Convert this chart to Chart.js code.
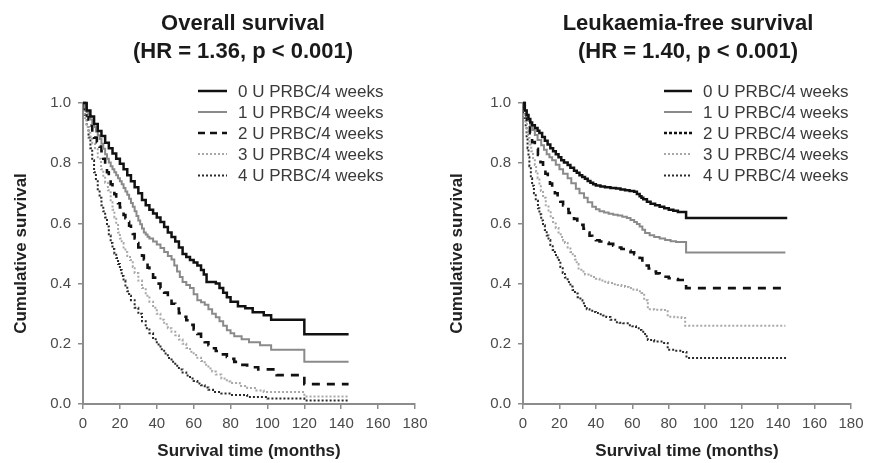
<!DOCTYPE html>
<html>
<head>
<meta charset="utf-8">
<script src="https://cdn.jsdelivr.net/npm/chart.js@4.4.1/dist/chart.umd.min.js"></script>
<style>
  html, body { margin: 0; padding: 0; background: #ffffff; }
  body { width: 871px; height: 463px; position: relative; overflow: hidden; }
  .panel { position: absolute; top: 0; height: 463px; }
</style>
</head>
<body>
<div class="panel" style="left:0;width:435px"><canvas id="os" width="435" height="463"></canvas></div>
<div class="panel" style="left:436px;width:435px"><canvas id="lfs" width="435" height="463"></canvas></div>
<script>
// ---------- data ----------
const groupLabels = ["0 U PRBC/4 weeks", "1 U PRBC/4 weeks", "2 U PRBC/4 weeks", "3 U PRBC/4 weeks", "4 U PRBC/4 weeks"];
const titleOS = ["Overall survival", "(HR = 1.36, p < 0.001)"];
const titleLFS = ["Leukaemia-free survival", "(HR = 1.40, p < 0.001)"];
const xTitle = "Survival time (months)";
const yTitle = "Cumulative survival";

// Overall survival (Kaplan-Meier steps: time in months, cumulative survival)
const os0_t = [0,2,4,6,8,10,12,14,16,18,20,22,24,26,28,30,32,34,36,38,40,42,44,46,48,50,52,54,56,58,60,62,64,65.5,67,72,74,76,78,80,84,88,92,98,102,120,144];
const os0_s = [1,0.975,0.955,0.93,0.907,0.89,0.868,0.85,0.832,0.815,0.798,0.78,0.76,0.74,0.72,0.70,0.678,0.66,0.645,0.633,0.62,0.605,0.588,0.57,0.555,0.54,0.52,0.498,0.488,0.478,0.47,0.46,0.445,0.43,0.405,0.40,0.385,0.37,0.355,0.34,0.325,0.318,0.305,0.295,0.28,0.232,0.232];
const os1_t = [0,1,2,3,4,5,6,7,8,9,10,11,12,13,14,15,16,17,18,19,20,21,22,23,24,25,26,27,28,29,30,31,32,33,34,35,36,38,40,42,44,46,48,49.5,51,52.5,54,56,58,60,62,64,66,68,70,72,74,76,78,80,82,86,90,96,102,120,144];
const os1_s = [1,0.985,0.97,0.96,0.945,0.93,0.92,0.905,0.893,0.88,0.865,0.848,0.83,0.815,0.802,0.79,0.78,0.77,0.76,0.75,0.74,0.73,0.718,0.706,0.695,0.682,0.668,0.655,0.64,0.625,0.61,0.597,0.583,0.57,0.563,0.556,0.55,0.54,0.53,0.518,0.505,0.492,0.48,0.46,0.44,0.422,0.405,0.395,0.385,0.365,0.345,0.338,0.33,0.315,0.30,0.288,0.275,0.26,0.245,0.235,0.225,0.215,0.205,0.195,0.18,0.14,0.14];
const os2_t = [0,1,2,3,4,5,6,7.5,9,10,11,12,13,14,15,16,17,18,19,20,21,22,23,24,25,26,27,28,29,30,31,32,33,34,35,36,38,40,42,44,46,48,50,52,54,56,58,60,62,64,66,68,70,72,75,78,80,82,84,89,95,105,120,144];
const os2_s = [1,0.98,0.96,0.945,0.925,0.9,0.885,0.87,0.855,0.84,0.815,0.795,0.77,0.75,0.73,0.713,0.697,0.68,0.667,0.653,0.64,0.628,0.617,0.605,0.592,0.578,0.565,0.55,0.535,0.52,0.507,0.493,0.48,0.467,0.453,0.44,0.42,0.40,0.385,0.37,0.35,0.333,0.317,0.302,0.29,0.278,0.263,0.248,0.233,0.218,0.205,0.195,0.185,0.176,0.165,0.156,0.15,0.14,0.13,0.122,0.115,0.096,0.066,0.066];
const os3_t = [0,1,2,3,4,5,6.5,8,9.8,11,12,13.5,15,16,17,18,19,20,21,22,23,24,25.5,27,28,30,32,34,36,38,40,42,44,46,48,50,52,54,56,58,60,62,64,66,68,70,72,75,78,80,85,89,94,98,120,144];
const os3_s = [1,0.95,0.92,0.9,0.88,0.865,0.85,0.815,0.78,0.755,0.735,0.71,0.67,0.645,0.62,0.595,0.57,0.55,0.535,0.52,0.505,0.492,0.478,0.455,0.435,0.41,0.385,0.36,0.34,0.32,0.30,0.28,0.265,0.252,0.24,0.228,0.214,0.20,0.186,0.174,0.163,0.154,0.143,0.13,0.118,0.108,0.098,0.085,0.075,0.07,0.06,0.053,0.045,0.04,0.025,0.025];
const os4_t = [0,1,2,3,4,5,6,7,8,9,10,11,12,13,14,15,16,17,18,19,20,21,22,23,24,25,26,28,30,32,34,36,38,40,42,44,46,48,50,52,54,56,58,60,62,64,66,68,70.5,75,80,89,100,120,144];
const os4_s = [1,0.96,0.92,0.885,0.85,0.81,0.77,0.74,0.71,0.685,0.66,0.64,0.62,0.59,0.56,0.535,0.515,0.50,0.485,0.465,0.445,0.425,0.41,0.39,0.375,0.36,0.345,0.32,0.30,0.275,0.252,0.235,0.215,0.198,0.182,0.168,0.153,0.14,0.127,0.115,0.105,0.095,0.085,0.076,0.068,0.062,0.055,0.047,0.04,0.035,0.03,0.023,0.018,0.012,0.012];

// Leukaemia-free survival
const lfs0_t = [0,1,2,3,4,5,6.5,8,9,10.5,12,13.5,15,16.5,18,19.5,21,22.5,24.5,26,28,29.5,31,32.5,34,35.5,37,38.5,40,42.5,45,48,51,53.5,56,58.5,61,62.5,64,65,66,68,70,72.5,75,77.5,80,82.5,85,89.5,145];
const lfs0_s = [1,0.975,0.96,0.947,0.935,0.926,0.917,0.908,0.9,0.887,0.875,0.862,0.85,0.84,0.83,0.82,0.81,0.802,0.794,0.785,0.775,0.768,0.76,0.754,0.748,0.741,0.735,0.73,0.726,0.723,0.72,0.718,0.716,0.713,0.71,0.708,0.705,0.698,0.69,0.685,0.68,0.672,0.665,0.66,0.655,0.65,0.645,0.642,0.638,0.618,0.618];
const lfs1_t = [0,1,2,3,4,5,6.5,8,10,11.5,13,14.5,16,18,20,22,24.5,26.5,29,31,33.5,35.5,38,40,42,44.5,47,49.5,52,54.5,57,59,61,62.5,64,65.5,67,69.5,72,75,78,81,84,89.5,144];
const lfs1_s = [1,0.975,0.955,0.94,0.925,0.91,0.894,0.877,0.86,0.845,0.83,0.82,0.81,0.795,0.78,0.765,0.75,0.733,0.715,0.70,0.685,0.67,0.655,0.647,0.64,0.636,0.632,0.629,0.626,0.622,0.618,0.611,0.605,0.598,0.59,0.579,0.568,0.561,0.555,0.55,0.545,0.541,0.538,0.503,0.503];
const lfs2_t = [0,0.7,1.5,2.1,2.7,3.8,5,6.5,8.2,9.6,11,12.3,13.6,14.8,16,17.5,19,20.5,22,23.5,25,26.5,28,29.8,31.5,33.2,35,36.5,38,40,42,44.5,47,49.5,52,54,56.5,59,61,62.5,64,65.5,67,69,70.7,73,75,77.5,80,82.5,85,89.5,144];
const lfs2_s = [1,0.98,0.96,0.945,0.927,0.9,0.87,0.848,0.827,0.803,0.78,0.765,0.75,0.732,0.715,0.7,0.684,0.672,0.66,0.648,0.635,0.625,0.615,0.605,0.595,0.582,0.57,0.559,0.548,0.544,0.54,0.536,0.532,0.526,0.52,0.515,0.51,0.504,0.498,0.492,0.485,0.472,0.46,0.45,0.44,0.434,0.428,0.423,0.418,0.415,0.412,0.385,0.385];
const lfs3_t = [0,0.7,1.5,2.1,2.7,3.6,4.5,5.5,6.5,7.2,8,9,9.8,11,12.5,14,15.2,16.5,18,19.5,20.7,22,23,24.5,26,27.3,28.5,29.5,30.5,32,34,36,38,40,42,44.5,46.8,49.5,52,54,56,58,60,62.5,65,66.5,68.5,72,76,79.4,83,87,89,144];
const lfs3_s = [1,0.96,0.93,0.905,0.884,0.862,0.84,0.817,0.794,0.772,0.75,0.728,0.708,0.685,0.66,0.637,0.618,0.60,0.585,0.57,0.555,0.543,0.535,0.52,0.505,0.492,0.48,0.465,0.45,0.44,0.43,0.426,0.422,0.416,0.41,0.406,0.402,0.398,0.395,0.392,0.389,0.385,0.38,0.375,0.369,0.345,0.315,0.313,0.312,0.29,0.288,0.286,0.26,0.26];
const lfs4_t = [0,0.5,1,1.5,2,2.5,3,3.5,4.3,5,6,7,8.2,9,10,11,12,13,14,15,16.3,17.5,19,20.5,21.8,23,24.5,26,27.2,28.5,30,31.5,32.6,34,35,36.5,38,40,42,44,45.7,48,50.6,53,55,58,60,62,63.5,65,67,68.5,72,76,79.4,83,87,89.7,145];
const lfs4_s = [1,0.97,0.95,0.92,0.885,0.85,0.82,0.79,0.75,0.725,0.70,0.675,0.65,0.63,0.61,0.594,0.578,0.56,0.545,0.528,0.512,0.495,0.478,0.455,0.435,0.42,0.405,0.39,0.379,0.367,0.355,0.345,0.335,0.322,0.315,0.31,0.306,0.302,0.298,0.294,0.289,0.28,0.272,0.27,0.268,0.262,0.258,0.252,0.246,0.24,0.225,0.213,0.208,0.203,0.18,0.177,0.173,0.153,0.153];

const xTicks = [0,20,40,60,80,100,120,140,160,180];
const yTicks = [0.0,0.2,0.4,0.6,0.8,1.0];

// ---------- styles ----------
const seriesStyle = [
  { color: '#111111', width: 2.5, dash: [] },
  { color: '#8a8a8a', width: 2.0, dash: [] },
  { color: '#111111', width: 2.6, dash: [8, 7] },
  { color: '#a8a8a8', width: 2.0, dash: [2, 2] },
  { color: '#2a2a2a', width: 2.0, dash: [2, 2] }
];

const FONT = "'Liberation Sans', Arial, Helvetica, sans-serif";
Chart.defaults.font.family = FONT;
Chart.defaults.color = '#444444';

function pts(t, s) { return t.map((v, i) => ({ x: v, y: s[i] })); }

const decorPlugin = {
  id: 'decor',
  afterDraw(chart) {
    const o = chart.options.plugins.decor;
    const ctx = chart.ctx;
    ctx.save();
    ctx.fillStyle = '#1a1a1a';
    ctx.font = "bold 22px " + FONT;
    ctx.textAlign = 'center';
    ctx.textBaseline = 'alphabetic';
    o.title.forEach((line, i) => ctx.fillText(line, o.titleX, o.titleY[i]));
    ctx.font = "17px " + FONT;
    ctx.textAlign = 'left';
    chart.data.datasets.forEach((ds, i) => {
      const yb = o.legendY[i];
      const st = seriesStyle[i];
      ctx.strokeStyle = st.color;
      ctx.lineWidth = st.width;
      ctx.setLineDash(i === 2 ? o.legendDash2 : st.dash);
      ctx.beginPath();
      ctx.moveTo(o.legendX1, yb - 5.5);
      ctx.lineTo(o.legendX2, yb - 5.5);
      ctx.stroke();
      ctx.setLineDash([]);
      ctx.fillStyle = '#3a3a3a';
      ctx.fillText(ds.label, o.legendTextX, yb);
    });
    ctx.restore();
  }
};

function makeChart(id, series, title, yAxisWidth, decor) {
  const datasets = series.map((sr, i) => ({
    label: groupLabels[i],
    data: pts(sr[0], sr[1]),
    borderColor: seriesStyle[i].color,
    borderWidth: seriesStyle[i].width,
    borderDash: seriesStyle[i].dash,
    stepped: true,
    pointRadius: 0,
    fill: false,
    clip: 6
  }));
  return new Chart(document.getElementById(id), {
    type: 'line',
    data: { datasets },
    options: {
      responsive: false,
      animation: false,
      devicePixelRatio: 1,
      layout: { padding: { top: 103, right: 20, left: 0, bottom: 0 } },
      plugins: {
        legend: { display: false },
        title: { display: false },
        tooltip: { enabled: false },
        decor: Object.assign({ title }, decor)
      },
      scales: {
        x: {
          type: 'linear', min: 0, max: 180,
          afterBuildTicks(scale) { scale.ticks = xTicks.map(v => ({ value: v })); },
          ticks: { font: { size: 15 }, color: '#4a4a4a', padding: 6, maxRotation: 0,
                   callback: v => String(v) },
          grid: { drawOnChartArea: false, drawTicks: true, tickLength: 5, color: '#8c8c8c', lineWidth: 1.5 },
          border: { display: true, color: '#8c8c8c', width: 2 },
          title: { display: true, text: xTitle, color: '#222222',
                   font: { size: 17, weight: 'bold' }, padding: { top: 0, bottom: 1 } },
          afterFit(scale) { scale.height = 59; }
        },
        y: {
          type: 'linear', min: 0, max: 1,
          afterBuildTicks(scale) { scale.ticks = yTicks.map(v => ({ value: v })); },
          ticks: { font: { size: 15 }, color: '#4a4a4a', padding: 7,
                   callback: v => Number(v).toFixed(1) },
          grid: { drawOnChartArea: false, drawTicks: true, tickLength: 5, color: '#8c8c8c', lineWidth: 1.5 },
          border: { display: true, color: '#8c8c8c', width: 2 },
          title: { display: true, text: yTitle, color: '#222222',
                   font: { size: 17, weight: 'bold' }, padding: { top: 11, bottom: 0 } },
          afterFit(scale) { scale.width = yAxisWidth; }
        }
      }
    },
    plugins: [decorPlugin]
  });
}

makeChart('os',
  [[os0_t, os0_s], [os1_t, os1_s], [os2_t, os2_s], [os3_t, os3_s], [os4_t, os4_s]],
  titleOS, 83,
  { titleX: 243, titleY: [30, 58], legendX1: 198, legendX2: 227, legendTextX: 238,
    legendDash2: [7, 5], legendY: [96.5, 117.5, 138.5, 159.5, 181] });

makeChart('lfs',
  [[lfs0_t, lfs0_s], [lfs1_t, lfs1_s], [lfs2_t, lfs2_s], [lfs3_t, lfs3_s], [lfs4_t, lfs4_s]],
  titleLFS, 87,
  { titleX: 252, titleY: [30, 58], legendX1: 228, legendX2: 256, legendTextX: 267,
    legendDash2: [3, 2], legendY: [96.5, 117.5, 138.5, 159.5, 181] });
</script>
</body>
</html>
